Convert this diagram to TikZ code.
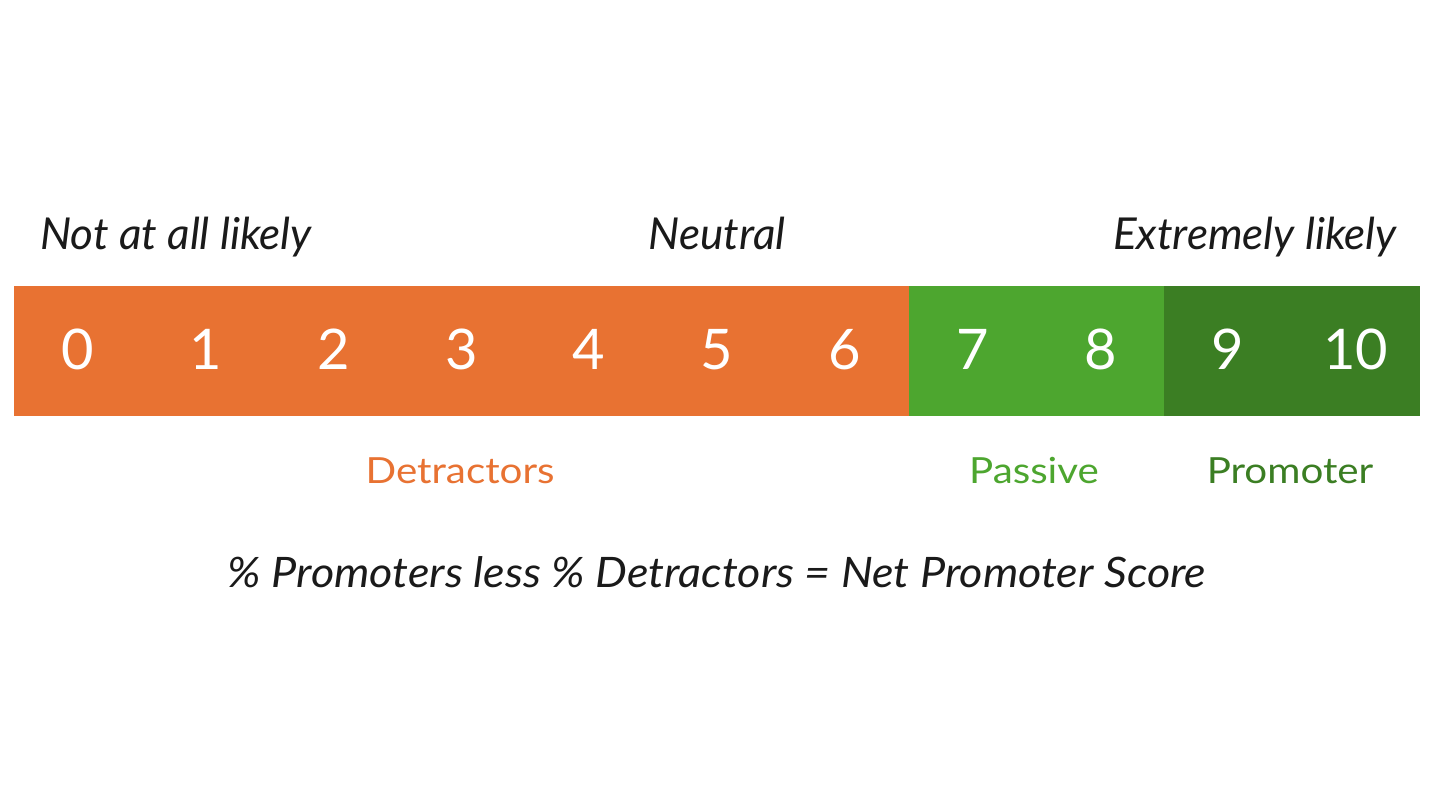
\documentclass[tikz,border=0pt]{standalone}
\usepackage{fontspec}
\setmainfont{Lato}
\newfontfamily\catfont[FakeStretch=1.12]{Lato}
\newfontfamily\formfont[FakeStretch=1.07]{Lato}
\definecolor{npsorange}{HTML}{E87232}
\definecolor{npsgreen}{HTML}{4DA62F}
\definecolor{npsdark}{HTML}{3B7E23}
\definecolor{txt}{HTML}{1A1A1A}
\tikzset{
  cell/.style={draw=none, minimum width=127.8pt, minimum height=130pt, inner sep=0pt},
  digit/.style={text=white, font=\fontsize{56}{56}\selectfont, inner sep=0pt, anchor=base},
  toplabel/.style={font=\fontsize{44}{44}\selectfont\itshape, text=txt, inner sep=0pt, anchor=base},
  catlabel/.style={font=\catfont\fontsize{36}{36}\selectfont, inner sep=0pt, anchor=base},
}
\begin{document}
\begin{tikzpicture}[x=1pt,y=-1pt]
\useasboundingbox (0,0) rectangle (1440,810);
\fill[white] (0,0) rectangle (1440,810);
\foreach \i in {0,...,10}{
  \pgfmathsetmacro{\cx}{14+127.8*\i+63.9}
  \ifnum\i<7 \def\cc{npsorange}\else\ifnum\i<9 \def\cc{npsgreen}\else\def\cc{npsdark}\fi\fi
  \node[cell, fill=\cc] (c\i) at (\cx,351) {};
  \node[digit] (d\i) at (\cx,369) {\i};
}
\node[toplabel, anchor=base west] (low) at (40,250) {Not at all likely};
\node[toplabel] (mid) at (717,250) {Neutral};
\node[toplabel, anchor=base east] (high) at (1397,250) {Extremely likely};
\node[catlabel, text=npsorange] (det) at (460,483) {Detractors};
\node[catlabel, text=npsgreen] (pas) at (1034,483) {Passive};
\node[catlabel, text=npsdark] (pro) at (1290,483) {Promoter};
\node[toplabel, font=\formfont\fontsize{42}{42}\selectfont\itshape] (formula) at (717,587) {\% Promoters less \% Detractors = Net Promoter Score};
\end{tikzpicture}
\end{document}
